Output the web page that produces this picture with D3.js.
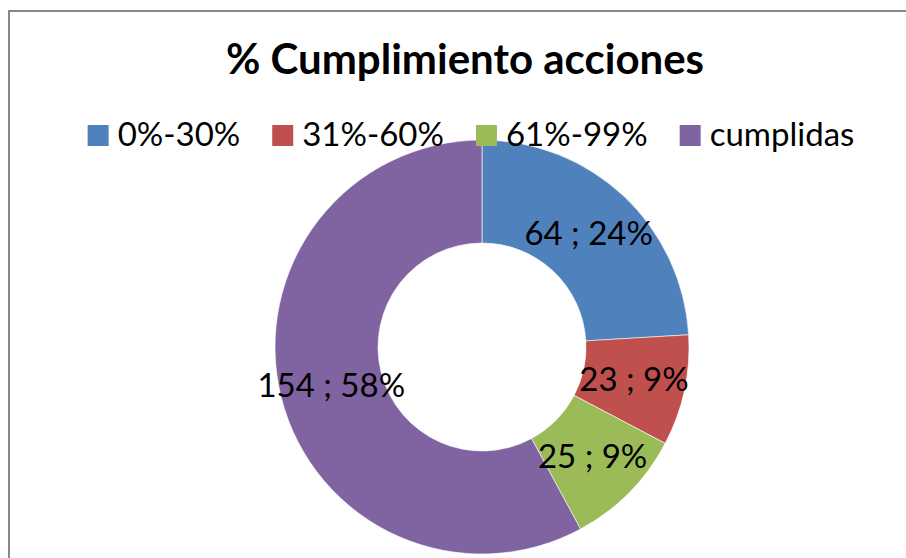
<!DOCTYPE html>
<html>
<head>
<meta charset="utf-8">
<script src="https://cdn.jsdelivr.net/npm/d3@7"></script>
<style>
  html, body { margin: 0; padding: 0; background: #fff; }
  svg { display: block; font-family: Lato, "Open Sans", sans-serif; }
</style>
</head>
<body>
<div id="chart"></div>
<script>
(function () {
  "use strict";

  // ── Datos ──────────────────────────────────────────────
  const categorias = ["0%-30%", "31%-60%", "61%-99%", "cumplidas"];
  const valores = [64, 23, 25, 154];
  const colores = ["#4f81bd", "#c0504d", "#9bbb59", "#8064a2"];
  const titulo = "% Cumplimiento acciones";

  // ── Setup SVG ──────────────────────────────────────────
  const width = 906;
  const height = 558;
  const cx = 482, cy = 347;
  const rOuter = 207, rInner = 104;

  const svg = d3.select("#chart").append("svg").attr("width", width).attr("height", height);

  // Marco
  svg.append("rect")
    .attr("x", 9).attr("y", 11)
    .attr("width", width + 20).attr("height", height + 20)
    .attr("fill", "#fff").attr("stroke", "#888").attr("stroke-width", 2);

  // Título
  svg.append("text")
    .attr("x", 465).attr("y", 74)
    .attr("text-anchor", "middle")
    .attr("font-size", "42px").attr("font-weight", "bold")
    .text(titulo);

  // Donut
  const total = d3.sum(valores);
  const pie = d3.pie().sort(null).value((d) => d);
  const arc = d3.arc().innerRadius(rInner).outerRadius(rOuter);
  const arcs = pie(valores);

  const g = svg.append("g").attr("transform", `translate(${cx},${cy})`);

  g.selectAll("path")
    .data(arcs)
    .join("path")
    .attr("d", arc)
    .attr("fill", (d, i) => colores[i])
    .attr("stroke", "#fff")
    .attr("stroke-width", 0.6);

  g.selectAll("text")
    .data(arcs)
    .join("text")
    .attr("transform", (d) => `translate(${arc.centroid(d)})`)
    .attr("text-anchor", "middle")
    .attr("dy", "0.35em")
    .attr("font-size", "33px")
    .text((d) => `${d.data} ; ${Math.round((d.data / total) * 100)}%`);

  // Leyenda
  const leg = svg.append("g").attr("class", "legend");
  const items = leg.selectAll("g").data(categorias).join("g");
  items.append("rect")
    .attr("width", 21).attr("height", 21)
    .attr("y", -21)
    .attr("fill", (d, i) => colores[i]);
  items.append("text")
    .attr("x", 30).attr("y", 0)
    .attr("font-size", "33px")
    .text((d) => d);

  let xPos = 0;
  items.each(function () {
    const w = d3.select(this).select("text").node().getComputedTextLength();
    d3.select(this).attr("transform", `translate(${xPos},0)`);
    xPos += 30 + w + 32;
  });
  const legW = xPos - 32;
  leg.attr("transform", `translate(${471 - legW / 2},146)`);
})();
</script>
</body>
</html>
